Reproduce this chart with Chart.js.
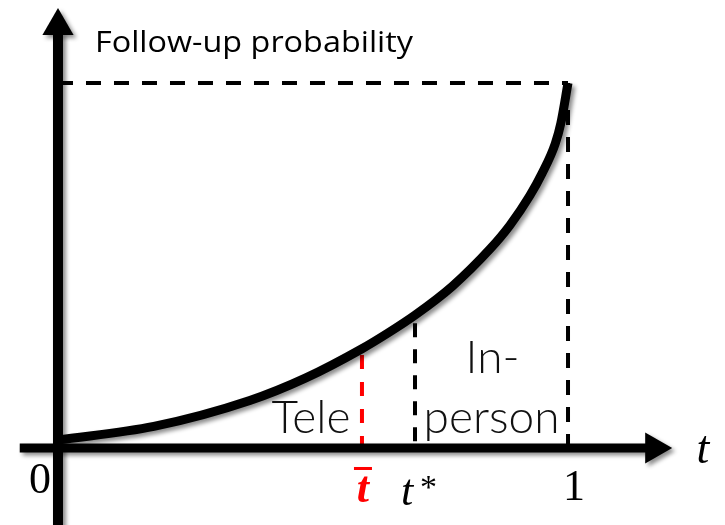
<!DOCTYPE html>
<html><head><meta charset="utf-8">
<script src="https://cdn.jsdelivr.net/npm/chart.js@4"></script>
<style>html,body{margin:0;padding:0;background:#fff}#wrap{width:725px;height:525px;position:relative}</style>
</head><body><div id="wrap"><canvas id="c"></canvas></div>
<script>
// ---- data ----
const curveT    = [0, 0.188, 0.376, 0.486, 0.596, 0.647, 0.700, 0.773, 0.847, 0.886, 0.925, 0.949, 0.975, 0.986, 1.0];
const curveProb = [0.022, 0.059, 0.130, 0.192, 0.272, 0.315, 0.364, 0.443, 0.545, 0.610, 0.691, 0.752, 0.834, 0.890, 1.0];
const tBar = 0.596, tBarTop = 0.255;
const tStar = 0.700, tStarTop = 0.342;
const tEnd = 1, probEnd = 1;
const axisRangeT = [-0.075, 1.204];
const axisRangeP = [-0.25, 1.205];
const tickLabels = ['0', '1'];
const yTitle = 'Follow-up probability';
const xTitle = 't';
const regionLabels = ['Tele', 'In-', 'person'];

const pts = (xs, ys) => xs.map((x, i) => ({x, y: ys[i]}));

const shadowPlugin = {
  id: 'shadow',
  beforeDatasetDraw(chart, args) {
    const ds = chart.data.datasets[args.index];
    if (ds.shadow) {
      const c = chart.ctx;
      c.save();
      c.shadowColor = 'rgba(0,0,0,0.45)';
      c.shadowBlur = 4; c.shadowOffsetX = 3; c.shadowOffsetY = 3;
    }
  },
  afterDatasetDraw(chart, args) {
    const ds = chart.data.datasets[args.index];
    if (ds.shadow) chart.ctx.restore();
  }
};

const textPlugin = {
  id: 'texts',
  afterDraw(chart) {
    const c = chart.ctx, xs = chart.scales.x, ys = chart.scales.y;
    const X = v => xs.getPixelForValue(v), Y = v => ys.getPixelForValue(v);
    const x0 = X(0), y0 = Y(0);
    c.save();
    c.fillStyle = '#000';
    c.textBaseline = 'alphabetic';
    // y title (stretched to the reference width)
    c.textAlign = 'left';
    c.font = "29px 'Open Sans'";
    const w = c.measureText(yTitle).width;
    c.save();
    c.translate(x0 + 37, 52);
    c.scale(318 / w, 1);
    c.fillText(yTitle, 0, 0);
    c.restore();
    // ticks
    c.textAlign = 'center';
    c.font = "44px 'Liberation Serif'";
    c.fillText(tickLabels[0], x0 - 18, y0 + 45);
    c.fillText(tickLabels[1], X(tEnd) + 6, y0 + 52);
    // x title
    c.font = "italic 46px 'Liberation Serif'";
    c.fillText(xTitle, X(0) + 645, y0 + 15);
    // t*
    c.textAlign = 'left';
    c.font = "italic 44px 'Liberation Serif'";
    c.fillText('t', X(tStar) - 14, y0 + 57);
    c.font = "34px 'Liberation Serif'";
    c.fillText('*', X(tStar) + 5, y0 + 50);
    // t bar (red)
    c.fillStyle = 'rgb(255,0,0)';
    c.textAlign = 'center';
    c.font = "bold italic 44px 'Liberation Serif'";
    c.fillText('t', X(tBar) + 1, y0 + 54);
    c.fillRect(X(tBar) - 8, y0 + 19, 18, 3);
    // region labels
    c.fillStyle = '#111';
    c.font = "300 46px Lato";
    c.fillText(regionLabels[0], X(tBar) - 51, y0 - 15, 80);
    c.fillText(regionLabels[1], X((tStar + tEnd) / 2) + 1, y0 - 75, 56);
    c.fillText(regionLabels[2], X((tStar + tEnd) / 2), y0 - 15, 140);
    c.restore();
  }
};

new Chart(document.getElementById('c'), {
  type: 'line',
  data: {
    datasets: [
      { label: 'curve', data: pts(curveT, curveProb), borderColor: '#000', borderWidth: 9,
        cubicInterpolationMode: 'monotone', pointRadius: 0, fill: false, shadow: true, order: 1 },
      { label: 'x-axis', data: [{x: axisRangeT[0], y: 0}, {x: 1.16, y: 0}], borderColor: '#000', borderWidth: 9,
        pointRadius: 0, fill: false, shadow: true, order: 2 },
      { label: 'y-axis', data: [{x: 0, y: axisRangeP[0]}, {x: 0, y: 1.14}], borderColor: '#000', borderWidth: 10,
        pointRadius: 0, fill: false, shadow: true, order: 2 },
      { label: 'arrows', type: 'scatter', data: [{x: 1.169, y: 0}, {x: 0, y: 1.156}],
        pointStyle: 'triangle', pointRadius: 18, pointRotation: [90, 0], backgroundColor: '#000',
        borderWidth: 0, shadow: true, order: 2 },
      { label: 'top', data: [{x: 0, y: probEnd}, {x: tEnd, y: probEnd}], borderColor: '#000', borderWidth: 4,
        borderDash: [15, 13], pointRadius: 0, fill: false, order: 3 },
      { label: 'right', data: [{x: tEnd, y: probEnd}, {x: tEnd, y: 0}], borderColor: '#000', borderWidth: 4,
        borderDash: [15, 12], pointRadius: 0, fill: false, order: 3 },
      { label: 'tstar', data: [{x: tStar, y: tStarTop}, {x: tStar, y: 0}], borderColor: '#000', borderWidth: 4,
        borderDash: [14, 12], pointRadius: 0, fill: false, order: 3 },
      { label: 'tbar', data: [{x: tBar, y: tBarTop}, {x: tBar, y: 0}], borderColor: 'rgb(255,0,0)', borderWidth: 4,
        borderDash: [14, 13], pointRadius: 0, fill: false, order: 3 }
    ]
  },
  options: {
    responsive: true, maintainAspectRatio: false, animation: false, events: [],
    layout: { padding: 0, autoPadding: false },
    plugins: { legend: { display: false }, tooltip: { enabled: false } },
    scales: {
      x: { type: 'linear', min: -0.1137, max: 1.3078, display: false },
      y: { type: 'linear', min: -0.211, max: 1.2274, display: false }
    }
  },
  plugins: [shadowPlugin, textPlugin]
});
</script></body></html>
